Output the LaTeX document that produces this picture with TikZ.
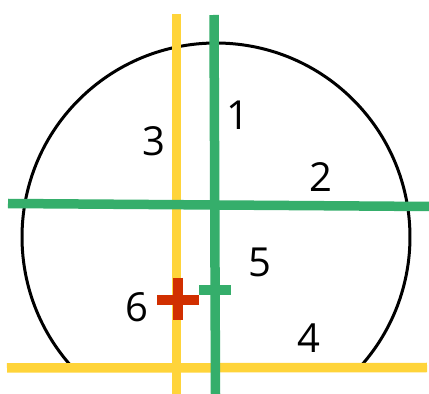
\documentclass[tikz,border=0pt]{standalone}
\usepackage{fontspec}
\setmainfont{Open Sans}
\definecolor{ylw}{HTML}{FFD43A}
\definecolor{grn}{HTML}{35AE6B}
\definecolor{rd}{HTML}{D12F00}
\begin{document}
\begin{tikzpicture}[x=1pt,y=1pt,
  outline/.style={draw=black,line width=3pt},
  yline/.style={draw=ylw,line width=9.5pt},
  gline/.style={draw=grn,line width=9.5pt},
  rline/.style={draw=rd,line width=10pt},
  lbl/.style={font=\fontsize{40}{40}\selectfont,inner sep=0pt,anchor=center}]
\useasboundingbox[fill=white] (0,0) rectangle (429,394);
% outline: circle cut at the bottom line
\draw[outline] (216,157) ++(222.5:194) arc[start angle=222.5,end angle=-42.5,radius=194];
% yellow lines
\draw[yline] (176.5,380) -- (176.5,0);
\draw[yline] (7,26) -- (427,26.5);
% green lines
\draw[gline] (214,379) -- (215.5,0);
\draw[gline] (8,190.5) -- (429,187.5);
\draw[gline] (199,104) -- (231,104);
% red plus
\draw[rline] (157,94) -- (199,94);
\draw[rline] (178,116) -- (178,74);
% labels
\node[lbl] (n1) at (238,279) {1};
\node[lbl] (n2) at (321,217) {2};
\node[lbl] (n3) at (154,253) {3};
\node[lbl] (n4) at (309,56) {4};
\node[lbl] (n5) at (260,132) {5};
\node[lbl] (n6) at (137,87) {6};
\end{tikzpicture}
\end{document}
